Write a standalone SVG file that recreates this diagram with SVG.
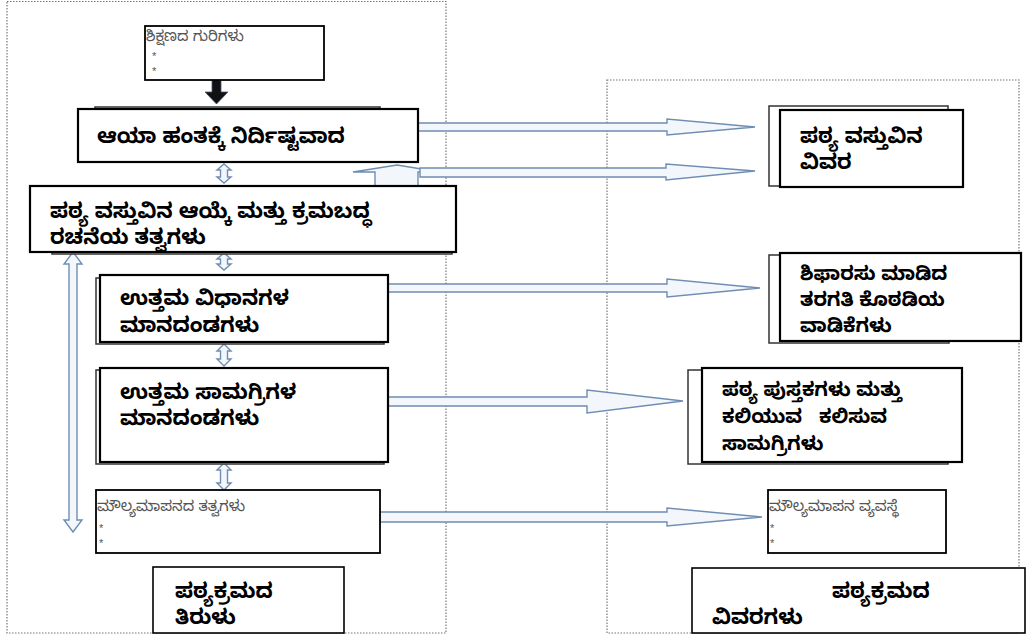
<svg xmlns="http://www.w3.org/2000/svg" width="1026" height="638" viewBox="0 0 1026 638">
<style>
.frame{fill:none;stroke:#777;stroke-width:1.2;stroke-dasharray:1.5,1.5}
.box{fill:#fff;stroke:#000;stroke-width:2.2}
.shadow{fill:#fff;stroke:#333;stroke-width:1.5}
.big{font-family:"Noto Sans Kannada","Noto Sans","Liberation Sans",sans-serif;font-size:21px;font-weight:bold;fill:#000}
.mid{font-family:"Noto Sans Kannada","Noto Sans","Liberation Sans",sans-serif;font-size:19.5px;font-weight:bold;fill:#000}
.small{font-family:"Noto Sans Kannada","Noto Sans","Liberation Sans",sans-serif;font-size:15px;fill:#555}
.star{font-family:"Liberation Sans",sans-serif;font-size:11px;fill:#555}
.barrow{fill:#f3f7fc;stroke:#6f8db3;stroke-width:1.4}
</style>
<rect width="1026" height="638" fill="#fff"/>
<rect class="frame" x="7" y="1.5" width="439" height="631.5"/>
<rect class="frame" x="607" y="80" width="412" height="553"/>

<g id="connectors">
<polygon class="barrow" points="375,186 375,172 353,172 397,165 440,172 418,172 418,186"/>
<polygon class="barrow" points="418,123 667,123 667,119 755,127 667,135 667,131 418,131"/>
<polygon class="barrow" points="420,168 666,168 666,164 755,171 666,180 666,177 420,177"/>
<polygon class="barrow" points="388,284 667,284 667,279 760,288 667,297 667,292 388,292"/>
<polygon class="barrow" points="388,397 587,397 587,390 683,401 587,413 587,406 388,406"/>
<polygon class="barrow" points="380,512 667,512 667,508 762,517 667,526 667,522 380,522"/>
<polygon class="barrow" points="224,164 231,170 227.5,170 227.5,177 231,177 224,183 217,177 220.5,177 220.5,170 217,170"/>
<polygon class="barrow" points="224,253 231,259 227.5,259 227.5,264 231,264 224,270 217,264 220.5,264 220.5,259 217,259"/>
<polygon class="barrow" points="224,344 231,351 227.5,351 227.5,359 231,359 224,366 217,359 220.5,359 220.5,351 217,351"/>
<polygon class="barrow" points="224,463 231,470 227.5,470 227.5,483 231,483 224,490 217,483 220.5,483 220.5,470 217,470"/>
<polygon class="barrow" points="73,252 82,264 77,264 77,520 82,520 73,532 64,520 69,520 69,264 64,264"/>
<polygon fill="#111" stroke="#3a5a80" stroke-width="0.8" points="212,80 221,80 221,92 228,92 216.5,104 205,92 212,92"/>
</g>

<g id="n-goals">
<rect class="box" x="145" y="26" width="179" height="54" style="stroke-width:1.8"/>
<text class="small" x="146" y="41">ಶಿಕ್ಷಣದ ಗುರಿಗಳು</text>
<text class="star" x="152" y="60">*</text>
<text class="star" x="152" y="75">*</text>
</g>

<g id="n-stage">
<rect class="shadow" x="95" y="107" width="285" height="50"/>
<rect class="box" x="78" y="109" width="340" height="53"/>
<text class="big" x="97" y="143">ಆಯಾ ಹಂತಕ್ಕೆ ನಿರ್ದಿಷ್ಟವಾದ</text>
</g>

<g id="n-selection">
<rect class="shadow" x="52" y="190" width="400" height="64"/>
<rect class="box" x="30" y="186" width="426" height="66"/>
<text class="big" x="50" y="218">ಪಠ್ಯ ವಸ್ತುವಿನ ಆಯ್ಕೆ ಮತ್ತು ಕ್ರಮಬದ್ಧ</text>
<text class="big" x="50" y="244">ರಚನೆಯ ತತ್ವಗಳು</text>
</g>

<g id="n-methods">
<rect class="shadow" x="96" y="278" width="288" height="66"/>
<rect class="box" x="100" y="275" width="288" height="67"/>
<text class="big" x="120" y="305">ಉತ್ತಮ ವಿಧಾನಗಳ</text>
<text class="big" x="120" y="332">ಮಾನದಂಡಗಳು</text>
</g>

<g id="n-materials">
<rect class="shadow" x="96" y="370" width="288" height="94"/>
<rect class="box" x="100" y="368" width="288" height="94"/>
<text class="big" x="120" y="399">ಉತ್ತಮ ಸಾಮಗ್ರಿಗಳ</text>
<text class="big" x="120" y="425">ಮಾನದಂಡಗಳು</text>
</g>

<g id="n-evalprinciples">
<rect class="box" x="96" y="490" width="284" height="63" style="stroke-width:1.8"/>
<text class="small" x="97" y="511">ಮೌಲ್ಯಮಾಪನದ ತತ್ವಗಳು</text>
<text class="star" x="99" y="532">*</text>
<text class="star" x="99" y="547">*</text>
</g>

<g id="n-core">
<rect class="box" x="153" y="567" width="191" height="66" style="stroke-width:1.6"/>
<text class="big" x="175" y="598">ಪಠ್ಯಕ್ರಮದ</text>
<text class="big" x="175" y="624">ತಿರುಳು</text>
</g>

<g id="n-content">
<rect class="shadow" x="769" y="106" width="179" height="80"/>
<rect class="box" x="780" y="110" width="183" height="77"/>
<text class="big" x="800" y="143">ಪಠ್ಯ ವಸ್ತುವಿನ</text>
<text class="big" x="800" y="169">ವಿವರ</text>
</g>

<g id="n-routines">
<rect class="shadow" x="769" y="255" width="180" height="88"/>
<rect class="box" x="780" y="253" width="241" height="88"/>
<text class="mid" x="800" y="280">ಶಿಫಾರಸು ಮಾಡಿದ</text>
<text class="mid" x="800" y="306">ತರಗತಿ ಕೊಠಡಿಯ</text>
<text class="mid" x="800" y="332">ವಾಡಿಕೆಗಳು</text>
</g>

<g id="n-textbooks">
<rect class="shadow" x="688" y="370" width="260" height="94"/>
<rect class="box" x="702" y="368" width="260" height="94"/>
<text class="mid" x="722" y="396">ಪಠ್ಯ ಪುಸ್ತಕಗಳು ಮತ್ತು</text>
<text class="mid" x="722" y="423" style="white-space:pre">ಕಲಿಯುವ   ಕಲಿಸುವ</text>
<text class="mid" x="722" y="450">ಸಾಮಗ್ರಿಗಳು</text>
</g>

<g id="n-evalsystem">
<rect class="box" x="768" y="490" width="178" height="63" style="stroke-width:1.8"/>
<text class="small" x="769" y="511">ಮೌಲ್ಯಮಾಪನ ವ್ಯವಸ್ಥೆ</text>
<text class="star" x="770" y="532">*</text>
<text class="star" x="770" y="547">*</text>
</g>

<g id="n-details">
<rect class="box" x="692" y="568" width="333" height="65" style="stroke-width:1.6"/>
<text class="big" x="832" y="598">ಪಠ್ಯಕ್ರಮದ</text>
<text class="big" x="712" y="624">ವಿವರಗಳು</text>
</g>
</svg>
